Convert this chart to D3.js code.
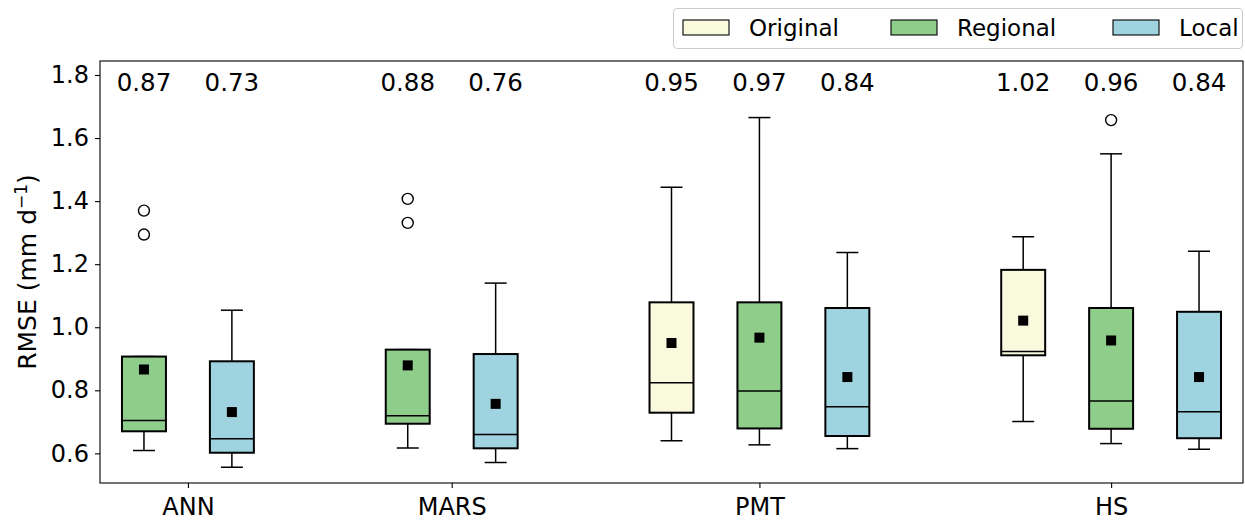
<!DOCTYPE html>
<html>
<head>
<meta charset="utf-8">
<script src="https://cdn.jsdelivr.net/npm/d3@7"></script>
<style>
  html, body { margin: 0; padding: 0; background: #fff; }
  svg text { font-family: "DejaVu Sans", sans-serif; fill: #000; }
</style>
</head>
<body>
<div id="chart"></div>
<script>
/*
 * RMSE box plots per method, original / regional / local calibration
 */

var methods = ["ANN", "MARS", "PMT", "HS"];
var seriesNames = ["Original", "Regional", "Local"];

// one entry per box
var boxMethod = ["ANN", "ANN", "MARS", "MARS", "PMT", "PMT", "PMT", "HS", "HS", "HS"];
var boxSeries = ["Regional", "Local", "Regional", "Local", "Original", "Regional", "Local", "Original", "Regional", "Local"];
var whiskerLow = [0.609, 0.556, 0.617, 0.571, 0.640, 0.627, 0.615, 0.701, 0.631, 0.613];
var q1 = [0.670, 0.602, 0.694, 0.616, 0.729, 0.679, 0.655, 0.911, 0.678, 0.648];
var median = [0.704, 0.646, 0.719, 0.660, 0.824, 0.798, 0.748, 0.923, 0.766, 0.732];
var q3 = [0.907, 0.892, 0.929, 0.915, 1.079, 1.079, 1.061, 1.182, 1.061, 1.049];
var whiskerHigh = [0.907, 1.054, 0.929, 1.140, 1.444, 1.665, 1.237, 1.287, 1.550, 1.241];
var means = [0.866, 0.731, 0.879, 0.757, 0.950, 0.967, 0.842, 1.021, 0.958, 0.842];
var outliers = [[1.370, 1.294], [], [1.407, 1.331], [], [], [], [], [], [1.657], []];

var yTicks = [0.6, 0.8, 1.0, 1.2, 1.4, 1.6, 1.8];

var color = d3.scaleOrdinal()
    .domain(seriesNames)
    .range(["#f9f9de", "#8fcd8b", "#9fd3e0"]);

var width = 1245;
var height = 521;
var margin = {left: 100, right: 2, top: 61, bottom: 38};

var svg = d3.select("#chart")
    .append("svg")
    .attr("width", width)
    .attr("height", height);

// slot index for each box: groups laid side by side, one empty slot between groups
var slot = [];
var groupCenter = {};
var pos = 0;
methods.forEach(function (m, gi) {
    var idx = [];
    boxMethod.forEach(function (bm, i) {
        if (bm === m) { slot[i] = pos; idx.push(pos); pos++; }
    });
    groupCenter[m] = d3.mean(idx);
    pos++;
});

var x = d3.scaleLinear()
    .domain([-0.5, pos - 1.5])
    .range([margin.left, width - margin.right]);

var y = d3.scaleLinear()
    .domain([0.5060, 1.8444])
    .range([height - margin.bottom, margin.top]);

var boxW = x(0.5) - x(0);

// axes
var yAxis = svg.append("g")
    .attr("transform", "translate(" + margin.left + ",0)")
    .call(d3.axisLeft(y).tickValues(yTicks).tickFormat(d3.format(".1f")).tickSize(5).tickPadding(6));

var xAxis = svg.append("g")
    .attr("transform", "translate(0," + (height - margin.bottom) + ")")
    .call(d3.axisBottom(x)
        .tickValues(methods.map(function (m) { return groupCenter[m]; }))
        .tickFormat(function (d, i) { return methods[i]; })
        .tickSize(5).tickPadding(10));

svg.selectAll(".domain").remove();
svg.selectAll(".tick line").attr("stroke", "#000").attr("stroke-width", 1.1);
svg.selectAll(".tick text").style("font-size", "24px").style("font-family", "DejaVu Sans");

svg.append("text")
    .attr("transform", "translate(36," + ((margin.top + height - margin.bottom) / 2) + ") rotate(-90)")
    .attr("text-anchor", "middle")
    .style("font-size", "25px")
    .html("RMSE (mm d<tspan dy='-9' style='font-size:17px'>\u22121</tspan><tspan dy='9'>)</tspan>");

// boxes
var boxes = svg.selectAll(".box")
    .data(boxMethod.map(function (m, i) { return i; }))
    .enter()
    .append("g")
    .attr("class", "box");

boxes.append("line")
    .attr("x1", function (i) { return x(slot[i]); })
    .attr("x2", function (i) { return x(slot[i]); })
    .attr("y1", function (i) { return y(whiskerLow[i]); })
    .attr("y2", function (i) { return y(q1[i]); })
    .attr("stroke", "#000").attr("stroke-width", 1.5);

boxes.append("line")
    .attr("x1", function (i) { return x(slot[i]); })
    .attr("x2", function (i) { return x(slot[i]); })
    .attr("y1", function (i) { return y(q3[i]); })
    .attr("y2", function (i) { return y(whiskerHigh[i]); })
    .attr("stroke", "#000").attr("stroke-width", 1.5);

[whiskerLow, whiskerHigh].forEach(function (arr) {
    boxes.append("line")
        .attr("x1", function (i) { return x(slot[i]) - boxW / 4; })
        .attr("x2", function (i) { return x(slot[i]) + boxW / 4; })
        .attr("y1", function (i) { return y(arr[i]); })
        .attr("y2", function (i) { return y(arr[i]); })
        .attr("stroke", "#000").attr("stroke-width", 1.5);
});

boxes.append("rect")
    .attr("x", function (i) { return x(slot[i]) - boxW / 2; })
    .attr("y", function (i) { return y(q3[i]); })
    .attr("width", boxW)
    .attr("height", function (i) { return y(q1[i]) - y(q3[i]); })
    .attr("fill", function (i) { return color(boxSeries[i]); })
    .attr("stroke", "#000").attr("stroke-width", 2);

boxes.append("line")
    .attr("x1", function (i) { return x(slot[i]) - boxW / 2; })
    .attr("x2", function (i) { return x(slot[i]) + boxW / 2; })
    .attr("y1", function (i) { return y(median[i]); })
    .attr("y2", function (i) { return y(median[i]); })
    .attr("stroke", "#000").attr("stroke-width", 1.5);

boxes.append("rect")
    .attr("x", function (i) { return x(slot[i]) - 5; })
    .attr("y", function (i) { return y(means[i]) - 5; })
    .attr("width", 10).attr("height", 10)
    .attr("fill", "#000");

boxes.each(function (i) {
    d3.select(this).selectAll("circle")
        .data(outliers[i])
        .enter()
        .append("circle")
        .attr("cx", x(slot[i]))
        .attr("cy", function (v) { return y(v); })
        .attr("r", 5.5)
        .attr("fill", "none")
        .attr("stroke", "#000").attr("stroke-width", 1.4);
});

// mean labels along the top
boxes.append("text")
    .attr("x", function (i) { return x(slot[i]); })
    .attr("y", 91)
    .attr("text-anchor", "middle")
    .style("font-size", "24.5px")
    .text(function (i) { return means[i].toFixed(2); });

// frame
svg.append("rect")
    .attr("x", margin.left).attr("y", margin.top)
    .attr("width", width - margin.right - margin.left)
    .attr("height", height - margin.bottom - margin.top)
    .attr("fill", "none").attr("stroke", "#000").attr("stroke-width", 1.1);

// legend
var legendX = [683, 891, 1113];
var legend = svg.append("g");
legend.append("rect")
    .attr("x", 673.5).attr("y", 8.5)
    .attr("width", 569).attr("height", 40)
    .attr("rx", 4)
    .attr("fill", "#fff").attr("stroke", "#cccccc").attr("stroke-width", 1.1);

var items = legend.selectAll(".item")
    .data(seriesNames)
    .enter()
    .append("g")
    .attr("transform", function (d, i) { return "translate(" + legendX[i] + ",0)"; });

items.append("rect")
    .attr("x", 0).attr("y", 20)
    .attr("width", 46).attr("height", 15)
    .attr("fill", function (d) { return color(d); })
    .attr("stroke", "#000").attr("stroke-width", 1.1);

items.append("text")
    .attr("x", 66).attr("y", 36)
    .style("font-size", "23px")
    .text(function (d) { return d; });
</script>
</body>
</html>
